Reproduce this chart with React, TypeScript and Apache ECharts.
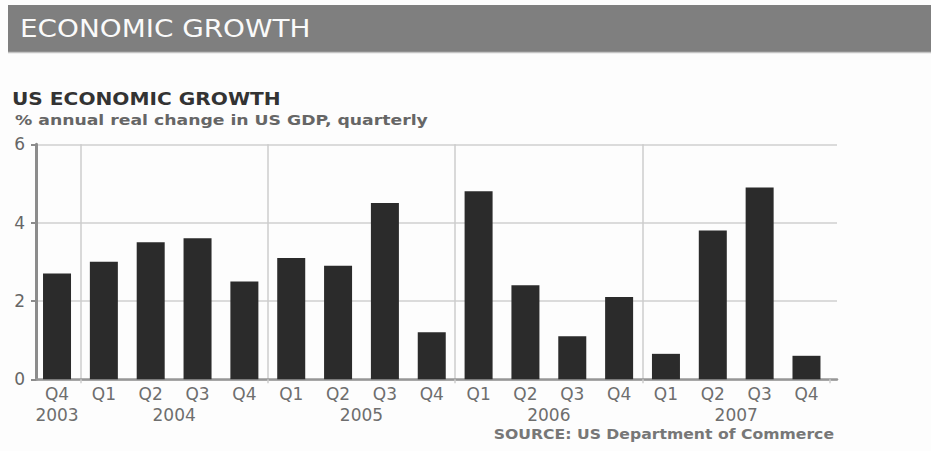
import React, { useEffect, useRef } from "react";
import * as echarts from "echarts";

// ---- data ----
const quarters = ["Q4", "Q1", "Q2", "Q3", "Q4", "Q1", "Q2", "Q3", "Q4", "Q1", "Q2", "Q3", "Q4", "Q1", "Q2", "Q3", "Q4"];
const growth = [2.7, 3.0, 3.5, 3.6, 2.5, 3.1, 2.9, 4.5, 1.2, 4.8, 2.4, 1.1, 2.1, 0.65, 3.8, 4.9, 0.6];
const yearLabels = ["2003", "2004", "2005", "2006", "2007"];
const yearLabelPositions = [0, 2.5, 6.5, 10.5, 14.5];
const yearStartIndices = [1, 5, 9, 13];
const yMin = 0;
const yMax = 6;
const yStep = 2;

const headerTitle = "ECONOMIC GROWTH";
const chartTitle = "US ECONOMIC GROWTH";
const chartSubtitle = "% annual real change in US GDP, quarterly";
const sourceText = "SOURCE: US Department of Commerce";

const FONT = "'DejaVu Sans', Verdana, sans-serif";
const W = 931;
const H = 451;

export default function App() {
  const ref = useRef<HTMLDivElement>(null);

  useEffect(() => {
    if (!ref.current) return;
    const chart = echarts.init(ref.current, undefined, { renderer: "svg" });

    const isYearStart = (index: number) => yearStartIndices.indexOf(index) >= 0;
    const plotTop = 144.3;
    const plotBottom = H - 379.3;

    const option: any = {
      animation: false,
      backgroundColor: "#fdfdfd",
      grid: [
        { left: 36, right: W - 837, top: plotTop, bottom: plotBottom },
        { left: 33.6, right: W - 829.9, top: plotTop, bottom: plotBottom },
      ],
      xAxis: [
        {
          gridIndex: 0,
          type: "value",
          min: 0,
          max: 1,
          axisLine: { show: true, lineStyle: { color: "#979797", width: 2.5 } },
          axisTick: { show: false },
          axisLabel: { show: false },
          splitLine: { show: false },
        },
        {
          gridIndex: 1,
          type: "category",
          data: quarters,
          axisLine: { show: false },
          axisTick: {
            show: true,
            length: 4,
            interval: (i: number) => isYearStart(i),
            lineStyle: { color: "#cccccc", width: 1.5 },
          },
          axisLabel: {
            interval: 0,
            color: "#6e6e6e",
            fontSize: 17,
            fontFamily: FONT,
            margin: 6,
          },
          splitLine: {
            show: true,
            interval: (i: number) => isYearStart(i),
            showMaxLine: false,
            lineStyle: { color: "#cccccc", width: 1.5 },
          },
        },
        {
          gridIndex: 1,
          type: "value",
          position: "bottom",
          offset: 21,
          min: -0.5,
          max: quarters.length - 0.5,
          interval: 0.5,
          axisLine: { show: false },
          axisTick: { show: false },
          splitLine: { show: false },
          axisLabel: {
            color: "#6e6e6e",
            fontSize: 17,
            fontFamily: FONT,
            margin: 6,
            formatter: (v: number) => {
              const k = yearLabelPositions.findIndex((p) => Math.abs(p - v) < 1e-6);
              return k >= 0 ? yearLabels[k] : "";
            },
          },
        },
      ],
      yAxis: [
        {
          gridIndex: 0,
          type: "value",
          min: yMin,
          max: yMax,
          interval: yStep,
          axisLine: { show: true, lineStyle: { color: "#8c8c8c", width: 3 } },
          axisTick: { show: true, length: 5, lineStyle: { color: "#8c8c8c", width: 2 } },
          axisLabel: { color: "#666666", fontSize: 17, fontFamily: FONT, margin: 11 },
          splitLine: { show: true, lineStyle: { color: "#cfcfcf", width: 1.5 } },
        },
        {
          gridIndex: 1,
          type: "value",
          min: yMin,
          max: yMax,
          interval: yStep,
          show: false,
          splitLine: { show: false },
        },
      ],
      series: [
        {
          type: "bar",
          xAxisIndex: 1,
          yAxisIndex: 1,
          data: growth,
          barWidth: 28,
          itemStyle: { color: "#2b2b2b" },
          z: 3,
        },
      ],
      graphic: [
        {
          type: "rect",
          shape: { x: 8, y: 5, width: W - 8, height: 47 },
          style: { fill: "#7f7f7f" },
          silent: true,
        },
        {
          type: "line",
          shape: { x1: 8, y1: 52.5, x2: W, y2: 52.5 },
          style: { stroke: "#c4c4c4", lineWidth: 1.5 },
          silent: true,
        },
        {
          type: "text",
          x: 20,
          y: 29,
          scaleX: 1.16,
          style: {
            text: headerTitle,
            fill: "#fafafa",
            fontSize: 24,
            fontFamily: FONT,
            align: "left",
            verticalAlign: "middle",
          },
          silent: true,
        },
        {
          type: "text",
          x: 12,
          y: 99.5,
          scaleX: 1.185,
          style: {
            text: chartTitle,
            fill: "#333333",
            fontSize: 17,
            fontWeight: "bold",
            fontFamily: FONT,
            align: "left",
            verticalAlign: "middle",
          },
          silent: true,
        },
        {
          type: "text",
          x: 15,
          y: 120,
          scaleX: 1.19,
          style: {
            text: chartSubtitle,
            fill: "#666666",
            fontSize: 14.5,
            fontWeight: "bold",
            fontFamily: FONT,
            align: "left",
            verticalAlign: "middle",
          },
          silent: true,
        },
        {
          type: "text",
          x: 834,
          y: 434,
          scaleX: 1.16,
          style: {
            text: sourceText,
            fill: "#777777",
            fontSize: 13.5,
            fontWeight: "bold",
            fontFamily: FONT,
            align: "right",
            verticalAlign: "middle",
          },
          silent: true,
        },
      ],
    };

    chart.setOption(option);
    return () => {
      chart.dispose();
    };
  }, []);

  return (
    <div
      ref={ref}
      style={{ position: "fixed", left: 0, top: 0, width: W, height: H }}
    />
  );
}
